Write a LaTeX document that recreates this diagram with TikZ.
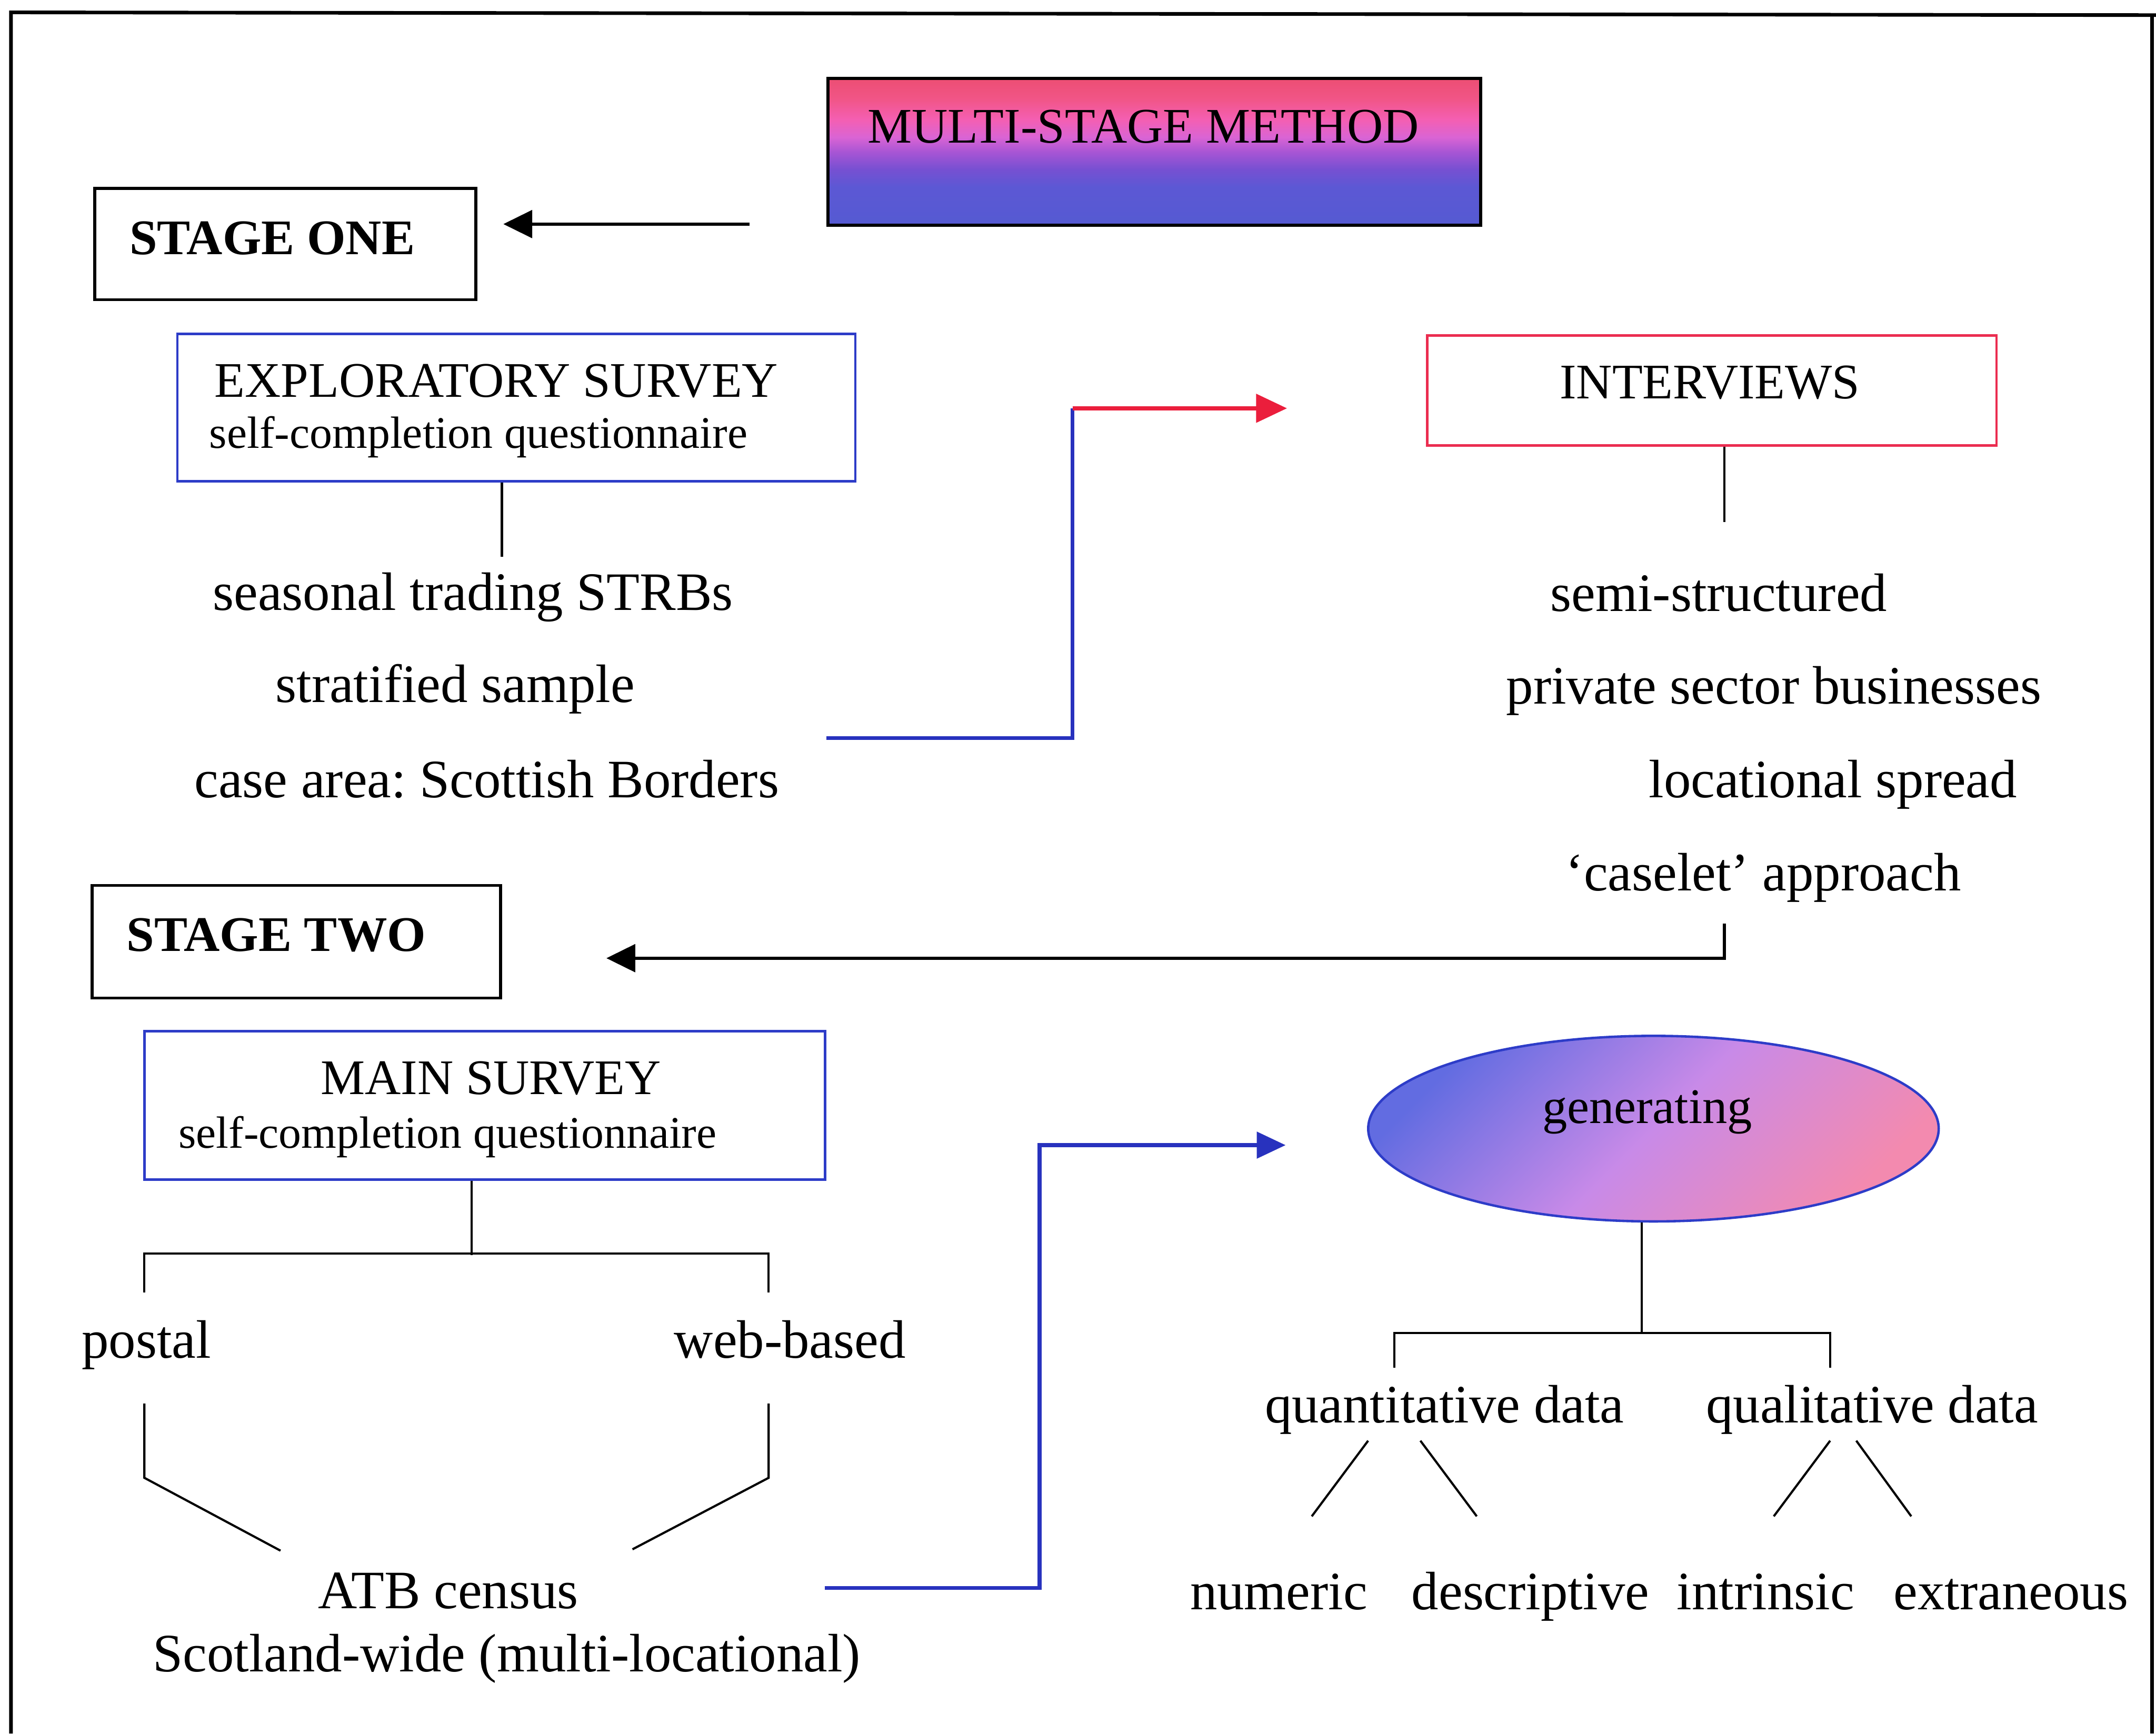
\documentclass[tikz,border=0pt]{standalone}
\usepackage{fontspec}
\setmainfont{Liberation Serif}
\usetikzlibrary{arrows.meta,shapes.geometric,fit,calc}
\frenchspacing

% palette
\definecolor{boxblue}{RGB}{45,60,200}
\definecolor{boxred}{RGB}{235,45,80}
\definecolor{linkblue}{RGB}{40,50,190}
\definecolor{linkred}{RGB}{235,30,60}
\definecolor{m1}{RGB}{85,90,210}
\definecolor{m2}{RGB}{92,88,212}
\definecolor{m3}{RGB}{118,80,210}
\definecolor{m4}{RGB}{168,85,212}
\definecolor{m5}{RGB}{218,100,212}
\definecolor{m6}{RGB}{244,95,178}
\definecolor{m7}{RGB}{241,85,135}
\definecolor{m8}{RGB}{236,78,115}
\definecolor{e1}{RGB}{98,108,225}
\definecolor{e2}{RGB}{200,138,232}
\definecolor{e3}{RGB}{243,138,175}

% banding of the title box, pink at the top running down to blue
\pgfdeclareverticalshading{methodshade}{100bp}{%
  color(0bp)=(m1); color(25bp)=(m1); color(38bp)=(m2); color(44bp)=(m3);
  color(50bp)=(m4); color(55bp)=(m5); color(61bp)=(m6); color(68bp)=(m7);
  color(75bp)=(m8); color(100bp)=(m8)}
% blue-to-pink wash of the oval
\pgfdeclareverticalshading{ovalshade}{100bp}{%
  color(0bp)=(e3); color(25bp)=(e3); color(50bp)=(e2);
  color(75bp)=(e1); color(100bp)=(e1)}

\tikzset{
  frame/.style={line width=1.5pt},
  stagebox/.style={draw=black, line width=1.2pt, inner sep=0pt},
  surveybox/.style={draw=boxblue, line width=1pt, inner sep=0pt},
  interviewbox/.style={draw=boxred, line width=1pt, inner sep=0pt},
  methodbox/.style={draw=black, line width=1.3pt, inner sep=0pt, shading=methodshade},
  oval/.style={ellipse, draw=boxblue, line width=1pt, inner sep=0pt,
    shading=ovalshade, shading angle=45},
  head/.style={inner sep=0pt, anchor=base, font=\fontsize{20.6pt}{24pt}\selectfont},
  stagehead/.style={inner sep=0pt, anchor=base, font=\fontsize{20.6pt}{24pt}\selectfont\bfseries},
  sub/.style={inner sep=0pt, anchor=base, font=\fontsize{18.7pt}{22pt}\selectfont},
  lbl/.style={inner sep=0pt, anchor=base, font=\fontsize{22.4pt}{26pt}\selectfont},
  tree/.style={line width=0.9pt},
  blackarrow/.style={line width=1.4pt, -{Triangle[length=0.42cm,width=0.4cm]}},
  bluelink/.style={draw=linkblue, line width=1.6pt},
  bluearrow/.style={draw=linkblue, line width=1.6pt,
    -{Triangle[length=0.42cm,width=0.38cm]}},
  redarrow/.style={draw=linkred, line width=1.6pt,
    -{Triangle[length=0.45cm,width=0.41cm]}},
}

\begin{document}
\begin{tikzpicture}[x=0.02cm, y=-0.02cm]
\useasboundingbox (0,0) rectangle (1568,1261);

% outer frame, open at the foot
\draw[frame] (8,1261) -- (8,9) -- (1568,11);
\draw[frame] (1565,11) -- (1565,1261);

% ---------- title ----------
\node[methodbox, fit={(602,57) (1077,164)}] (method) {};
\node[head] (methodtxt) at (831.5,104) {MULTI-STAGE METHOD};

% ---------- stage one ----------
\node[stagebox, fit={(69,137) (346,218)}] (stage1) {};
\node[stagehead] (stage1txt) at (198,185) {STAGE ONE};
\coordinate (a1) at (545,163);
\draw[blackarrow] (a1) -- ($(stage1.east |- a1)+(19,0)$);

\node[surveybox, fit={(129,243) (622,350)}] (explo) {};
\node[head] (explotxt) at (361,289) {EXPLORATORY SURVEY};
\node[sub] (explosub) at (348,326) {self-completion questionnaire};
\draw[tree] ($(explo.south)+(-10.5,0)$) -- ++(0,54);
\node[lbl] (seasonal) at (344,444) {seasonal trading STRBs};
\node[lbl] (stratified) at (331,511) {stratified sample};
\node[lbl] (casearea) at (354,580) {case area: Scottish Borders};

% link from the exploratory survey across to the interviews
\coordinate (l1a) at (601,537);
\coordinate (l1b) at (780,297);
\coordinate (l1c) at (936,297);
\draw[bluelink] (l1a) -| (l1b);
\draw[redarrow] (l1b) -- (l1c);

% ---------- interviews ----------
\node[interviewbox, fit={(1038,244) (1452,324)}] (interviews) {};
\node[head] (intxt) at (1243.5,290) {INTERVIEWS};
\draw[tree] ($(interviews.south)+(9,0)$) -- ++(0,55);
\node[lbl] (semi) at (1250,444.5) {semi-structured};
\node[lbl] (private) at (1290,512) {private sector businesses};
\node[lbl] (locational) at (1333,580) {locational spread};
\node[lbl] (caselet) at (1282.5,648) {`caselet' approach};

% return to stage two
\coordinate (l2a) at (1254,672);
\coordinate (l2b) at (441,697);
\draw[blackarrow] (l2a) |- (l2b);

% ---------- stage two ----------
\node[stagebox, fit={(67,644) (364,726)}] (stage2) {};
\node[stagehead] (stage2txt) at (201,692) {STAGE TWO};

\node[surveybox, fit={(105,750) (600,858)}] (mainsurvey) {};
\node[head] (maintxt) at (357,796) {MAIN SURVEY};
\node[sub] (mainsub) at (325.5,835) {self-completion questionnaire};

\coordinate (mb) at ($(mainsurvey.south)+(-9.5,0)$);
\draw[tree] (mb) -- ++(0,54);
\draw[tree] (105,940) -- (105,912) -- (559,912) -- (559,940);
\node[lbl] (postal) at (106.5,988) {postal};
\node[lbl] (web) at (574.5,988) {web-based};
\draw[tree] (105,1021) -- (105,1075) -- (204,1128);
\draw[tree] (559,1021) -- (559,1075) -- (460,1127);
\node[lbl] (atb) at (326,1170) {ATB census};
\node[lbl] (scotland) at (368.5,1216) {Scotland-wide (multi-locational)};

% link from the main survey to the analysis
\coordinate (l3a) at (600,1155);
\coordinate (l3b) at (756,833);
\coordinate (l3c) at (935,833);
\draw[bluearrow] (l3a) -| (l3b) -- (l3c);

% ---------- generating data ----------
\node[oval, minimum width=8.3cm, minimum height=2.7cm] (gen) at (1202.5,821) {};
\node[head] (gentxt) at (1198,817) {generating};
\draw[tree] ($(gen.south)+(-8.5,0)$) -- (1194,969.5);
\draw[tree] (1014,995) -- (1014,969.5) -- (1331,969.5) -- (1331,995);
\node[lbl] (quant) at (1050.5,1035) {quantitative data};
\node[lbl] (qual) at (1361.5,1035) {qualitative data};
\draw[tree] (995,1048) -- (954,1103);
\draw[tree] (1033,1048) -- (1074,1103);
\draw[tree] (1331,1048) -- (1290,1103);
\draw[tree] (1350,1048) -- (1390,1103);
\node[lbl] (numeric) at (930,1171) {numeric};
\node[lbl] (descriptive) at (1113,1171) {descriptive};
\node[lbl] (intrinsic) at (1284,1171) {intrinsic};
\node[lbl] (extraneous) at (1462.5,1171) {extraneous};
\end{tikzpicture}
\end{document}
